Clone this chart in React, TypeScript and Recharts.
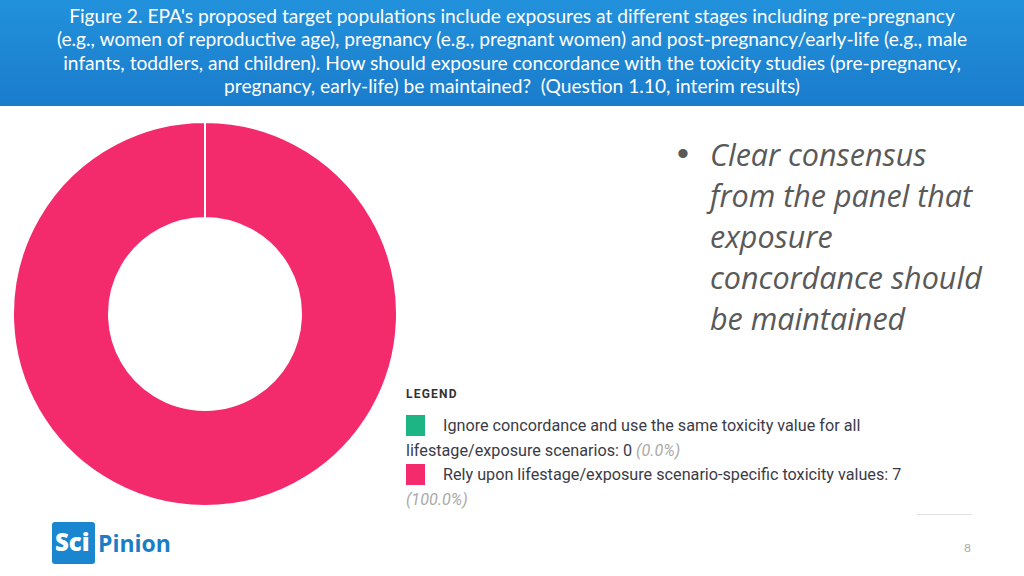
import React from 'react';
import { PieChart, Pie, Cell, Legend } from 'recharts';

const categories = [
  'Ignore concordance and use the same toxicity value for all lifestage/exposure scenarios',
  'Rely upon lifestage/exposure scenario-specific toxicity values',
];
const counts = [0, 7];
const percentLabels = ['(0.0%)', '(100.0%)'];
const colors = ['#1DB584', '#F32B6D'];

const titleLines = [
  "Figure 2. EPA's proposed target populations include exposures at different stages including pre-pregnancy",
  '(e.g., women of reproductive age), pregnancy (e.g., pregnant women) and post-pregnancy/early-life (e.g., male',
  'infants, toddlers, and children). How should exposure concordance with the toxicity studies (pre-pregnancy,',
  'pregnancy, early-life) be maintained?  (Question 1.10, interim results)',
];
const bulletLines = ['Clear consensus', 'from the panel that', 'exposure', 'concordance should', 'be maintained'];

const data = categories.map((name, i) => ({ name, value: counts[i], pct: percentLabels[i], color: colors[i] }));

const LegendContent = () => (
  <div style={{ fontFamily: 'Roboto, sans-serif', color: '#3b3b47', width: 520, textAlign: 'left' }}>
    <div style={{ fontSize: 12, fontWeight: 700, letterSpacing: 1.2, color: '#333', marginBottom: 12, lineHeight: '16px' }}>LEGEND</div>
    {data.map((d) => (
      <div key={d.name} style={{ fontSize: 16.2, lineHeight: '24.5px', marginBottom: 0 }}>
        <span style={{ display: 'inline-block', width: 19, height: 21, background: d.color, verticalAlign: -5, marginRight: 18 }} />
        {`${d.name}: ${d.value} `}
        <span style={{ fontStyle: 'italic', color: '#aaa' }}>{d.pct}</span>
      </div>
    ))}
  </div>
);

export default function App() {
  return (
    <div style={{ position: 'absolute', left: 0, top: 0, width: 1024, height: 576, background: '#fff', overflow: 'hidden' }}>
      <div style={{ position: 'absolute', left: 0, top: 0, width: 1024, height: 106, background: 'linear-gradient(180deg, #2291db 0%, #1a7ccc 100%)' }} />
      <div style={{ position: 'absolute', left: 0, top: 4, width: 1024, textAlign: 'center', color: '#fff', fontFamily: 'Lato, sans-serif', fontSize: 19.2, lineHeight: '23.4px', whiteSpace: 'pre' }}>
        {titleLines.map((l, i) => (
          <div key={i}>{l}</div>
        ))}
      </div>
      <PieChart width={1024} height={576} margin={{ top: 0, right: 0, bottom: 0, left: 0 }} style={{ position: 'absolute', left: 0, top: 0 }}>
        <Pie
          data={data}
          dataKey="value"
          nameKey="name"
          cx={205}
          cy={314}
          innerRadius={96}
          outerRadius={192}
          startAngle={90}
          endAngle={-270}
          stroke="#fff"
          strokeWidth={2}
          isAnimationActive={false}
        >
          {data.map((d) => (
            <Cell key={d.name} fill={d.color} />
          ))}
        </Pie>
        <Legend
          content={<LegendContent />}
          wrapperStyle={{ position: 'absolute', left: 406, top: 386, width: 520 }}
        />
      </PieChart>
      <div style={{ position: 'absolute', left: 677, top: 133, fontFamily: 'Arial, sans-serif', fontSize: 34, lineHeight: '41px', color: '#595959' }}>•</div>
      <div style={{ position: 'absolute', left: 710, top: 134, fontFamily: '"Open Sans", sans-serif', fontStyle: 'italic', fontSize: 30.5, lineHeight: '41px', color: '#595959' }}>
        {bulletLines.map((l, i) => (
          <div key={i}>{l}</div>
        ))}
      </div>
      <div style={{ position: 'absolute', left: 917, top: 514, width: 55, height: 1, background: '#e2e2e2' }} />
      <div style={{ position: 'absolute', left: 964, top: 540, fontFamily: 'Lato, sans-serif', fontSize: 12, color: '#aaa' }}>8</div>
      <div style={{ position: 'absolute', left: 52, top: 522, width: 43, height: 42, background: '#1a86d0', borderRadius: 3 }} />
      <div style={{ position: 'absolute', left: 55, top: 527, fontFamily: '"Open Sans", sans-serif', fontWeight: 800, fontSize: 24, lineHeight: '30px', color: '#fff' }}>Sci</div>
      <div style={{ position: 'absolute', left: 98, top: 528, fontFamily: '"Open Sans", sans-serif', fontWeight: 700, fontSize: 23, lineHeight: '30px', color: '#1a7ec6' }}>Pinion</div>
    </div>
  );
}
